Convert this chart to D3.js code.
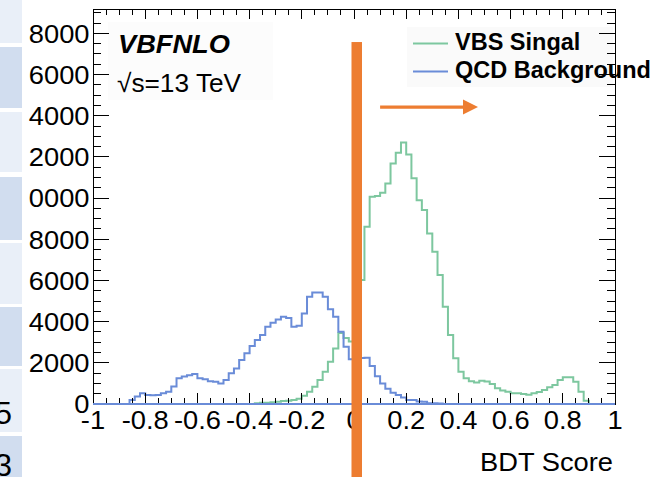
<!DOCTYPE html>
<html><head><meta charset="utf-8">
<script src="https://cdn.jsdelivr.net/npm/d3@7"></script>
<style>body{margin:0;background:#fff}svg{display:block}</style>
</head><body>
<svg id="c" width="654" height="477"></svg>
<script>
// ---- data: 100 bins of width 0.02 from -1 to 1 ----
const nBins = 100;
const binEdges = d3.range(nBins + 1).map(i => -1 + i * 0.02);
const qcdBackground = [
  0,0,0,0,0, 0,0,190,360,520,
  440,430,440,520,600, 850,1250,1330,1400,1460,
  1250,1200,1100,1080,1000, 1165,1490,1730,2140,2460,
  2820,3110,3350,3750,3950, 4110,4240,4180,3750,3800,
  4400,5210,5420,5420,5210, 4600,4240,3510,2780,2170,
  2200,2230,2250,1850,1350, 1000,740,550,440,320,
  200,190,120,110,40, 40,30,0,0,0,
  0,0,0,0,0, 0,0,0,0,0,
  0,0,0,0,0, 0,0,0,0,0,
  0,0,0,0,0, 0,0,0,0,0
];
const vbsSignal = [
  0,0,0,0,0, 0,0,0,0,0,
  0,0,0,0,0, 0,0,0,0,0,
  0,0,0,0,0, 0,0,0,0,0,
  0,40,60,65,80, 110,140,160,200,250,
  400,590,840,1165,1570, 2055,2700,3450,3200,3030,
  3000,6020,8610,10065,10100, 10260,10710,11680,12200,12700,
  12120,10960,9900,9420,8285, 7390,6260,4720,3350,2220,
  1570,1250,1100,1050,1130, 1090,970,760,650,600,
  520,520,485,455,520, 585,680,810,920,1165,
  1295,1295,1085,600,160, 0,0,0,0,0
];
const xTicksMajor = d3.range(-1, 1.0001, 0.2).map(v => +v.toFixed(2));
const xTickLabels = ["-1","-0.8","-0.6","-0.4","-0.2","0","0.2","0.4","0.6","0.8","1"];
const yTicksMajor = d3.range(0, 18001, 2000);
// labels as visible in the (left-cropped) picture
const yTickLabels = ["0","2000","4000","6000","8000","0000","2000","4000","6000","8000"];
const seriesNames = ["VBS Singal", "QCD Background"];
const cutValue = 0.0105;       // BDT cut (orange bar)
const cutBarTop = 17580;
const arrowFrom = 0.10, arrowTo = 0.475, arrowLevel = 14420;
const tableCells = [[0,43],[47,108],[112,172],[177,240],[243,304],[307,366],[369,432],[436,477]];
const tableTexts = [{t:"5", y:424},{t:"3", y:476}];

// ---- layout ----
const W = 654, H = 477;
const L = 93, R = 615, T = 9.3, B = 404;
const x = d3.scaleLinear().domain([-1, 1]).range([L, R]);
const y = d3.scaleLinear().domain([0, 19170]).range([B, T]);
const svg = d3.select("#c");
const font = "'Liberation Sans', Arial, Helvetica, sans-serif";
const colGreen = "#7dc79f", colBlue = "#6a8cd8", colOrange = "#ed7d31";

svg.append("rect").attr("width", W).attr("height", H).attr("fill", "#fff");

function txt(g, s, px, py, size, anchor, sx, weight, style) {
  return g.append("text").text(s)
    .attr("transform", `translate(${px},${py}) scale(${sx},1)`)
    .attr("font-family", font).attr("font-size", size)
    .attr("text-anchor", anchor || "start")
    .attr("font-weight", weight || "normal")
    .attr("font-style", style || "normal")
    .attr("fill", "#000");
}

// faint text backgrounds
svg.append("rect").attr("x", 407).attr("y", 27).attr("width", 206).attr("height", 60).attr("fill", "#fafafa");
svg.append("rect").attr("x", 108).attr("y", 22).attr("width", 165).attr("height", 78).attr("fill", "#fcfcfc");

// histograms
function stepPath(vals) {
  const pts = vals.map((v, i) => [x(binEdges[i]), y(v)]);
  pts.push([x(binEdges[nBins]), y(vals[nBins - 1])]);
  return d3.line().curve(d3.curveStepAfter)(pts);
}
svg.append("path").attr("d", stepPath(vbsSignal)).attr("fill", "none")
  .attr("stroke", colGreen).attr("stroke-width", 2);
svg.append("path").attr("d", stepPath(qcdBackground)).attr("fill", "none")
  .attr("stroke", colBlue).attr("stroke-width", 2);

// frame and ticks
const ax = svg.append("g").attr("stroke", "#000").attr("stroke-width", 1).attr("shape-rendering", "crispEdges");
ax.append("rect").attr("x", L).attr("y", T).attr("width", R - L).attr("height", B - T).attr("fill", "none");
const xMinor = d3.range(-1, 1.0001, 0.05).map(v => +v.toFixed(3));
xMinor.forEach(v => {
  const major = xTicksMajor.some(m => Math.abs(m - v) < 1e-6);
  ax.append("line").attr("x1", x(v)).attr("x2", x(v)).attr("y1", B).attr("y2", B - (major ? 11 : 6));
  ax.append("line").attr("x1", x(v)).attr("x2", x(v)).attr("y1", T).attr("y2", T + (major ? 10 : 6));
});
d3.range(0, 19170, 500).forEach(v => {
  const len = v % 2000 === 0 ? 16 : 8;
  ax.append("line").attr("x1", L).attr("x2", L + len).attr("y1", y(v)).attr("y2", y(v));
  ax.append("line").attr("x1", R).attr("x2", R - len).attr("y1", y(v)).attr("y2", y(v));
});
// blue baseline drawn over the bottom axis
svg.append("line").attr("x1", L).attr("x2", R).attr("y1", y(0)).attr("y2", y(0))
  .attr("stroke", colBlue).attr("stroke-width", 2);

// tick labels
const labs = svg.append("g");
yTicksMajor.forEach((v, i) => txt(labs, yTickLabels[i], 89.5, y(v) + 9.3, 26, "end", 1.05));
xTicksMajor.forEach((v, i) => txt(labs, xTickLabels[i], x(v), 428.5, 26, "middle", 1.05));
txt(labs, "BDT Score", 613, 471, 26, "end", 1.05);

// annotations
txt(svg, "VBFNLO", 118, 53, 25, "start", 1.09, "bold", "italic");
txt(svg, "\u221As=13 TeV", 117, 92, 25.5, "start", 1.03);

// legend
const leg = svg.append("g");
[[colGreen, 43.5, 50], [colBlue, 71.5, 77.5]].forEach((d, i) => {
  leg.append("line").attr("x1", 413).attr("x2", 448).attr("y1", d[1]).attr("y2", d[1])
    .attr("stroke", d[0]).attr("stroke-width", 2);
  txt(leg, seriesNames[i], 455, d[2], 23.5, "start", 1.0, "bold");
});

// orange cut bar and arrow
svg.append("rect").attr("x", x(cutValue) - 5.25).attr("y", y(cutBarTop)).attr("width", 10.5)
  .attr("height", H - y(cutBarTop)).attr("fill", colOrange);
const ay = y(arrowLevel);
svg.append("line").attr("x1", x(arrowFrom)).attr("x2", x(arrowTo) - 12).attr("y1", ay).attr("y2", ay)
  .attr("stroke", colOrange).attr("stroke-width", 3.3);
svg.append("path").attr("d", `M${x(arrowTo)},${ay} L${x(arrowTo) - 15},${ay - 7.5} L${x(arrowTo) - 15},${ay + 7.5} Z`)
  .attr("fill", colOrange);

// cropped table at the left edge
const tab = svg.append("g");
tableCells.forEach((c, i) => tab.append("rect").attr("x", 0).attr("y", c[0]).attr("width", 22)
  .attr("height", c[1] - c[0]).attr("fill", i % 2 === 0 ? "#e9eff8" : "#d1ddef"));
tableTexts.forEach(d => txt(tab, d.t, 12, d.y, 31, "end", 1.0));
</script>
</body></html>
